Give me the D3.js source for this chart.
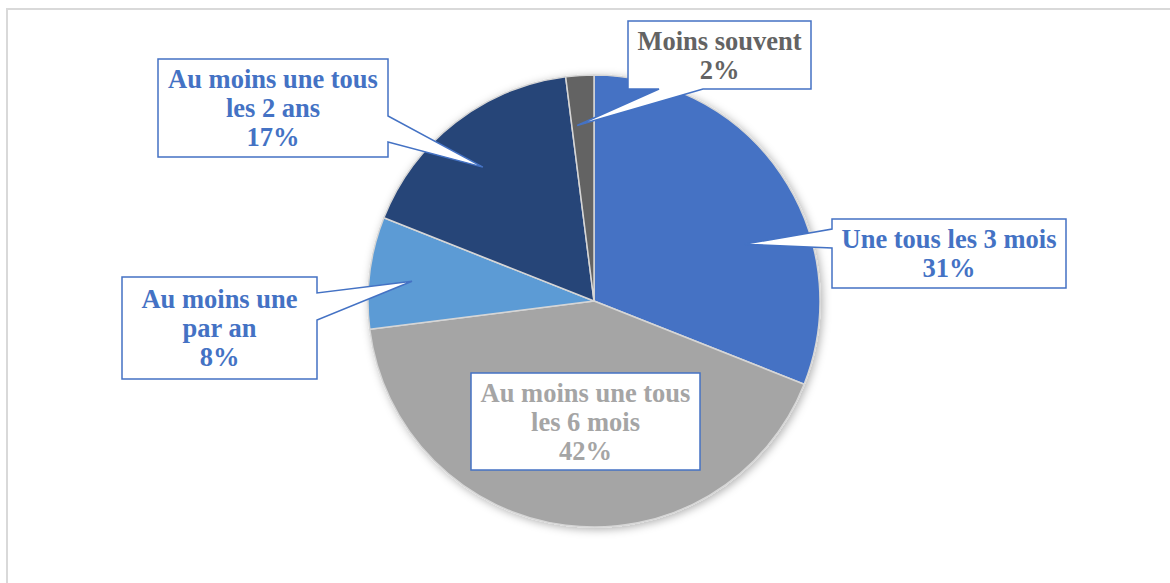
<!DOCTYPE html>
<html>
<head>
<meta charset="utf-8">
<script src="https://cdn.jsdelivr.net/npm/d3@7"></script>
<style>
  body { margin: 0; background: #fff; }
  svg { display: block; }
</style>
</head>
<body>
<svg width="1170" height="583"></svg>
<script>
let categories = ["Une tous les 3 mois", "Au moins une tous les 6 mois", "Au moins une par an", "Au moins une tous les 2 ans", "Moins souvent"];
let values = [31, 42, 8, 17, 2];
let labelLines = [["Une tous les 3 mois"], ["Au moins une tous", "les 6 mois"], ["Au moins une", "par an"], ["Au moins une tous", "les 2 ans"], ["Moins souvent"]];

let sliceColors = ['#4472C4', '#A5A5A5', '#5B9BD5', '#264478', '#636363'];
let textColors = ['#4472C4', '#A5A5A5', '#4472C4', '#4472C4', '#636363'];

// callout boxes: position of the box, which side the pointer leaves from, and where it points (polar, degrees / radius share)
let boxes = [
    {x: 832, y: 219, w: 234, h: 69, side: 'left', a: 229, b: 248, angle: 69.3, dist: 0.71},
    {x: 471, y: 373, w: 229, h: 97, side: null},
    {x: 122, y: 277, w: 195, h: 102, side: 'right', a: 293, b: 320, angle: 276.2, dist: 0.81},
    {x: 158, y: 59, w: 230, h: 98, side: 'right', a: 116, b: 142, angle: 320.3, dist: 0.77},
    {x: 628, y: 21, w: 183, h: 68, side: 'bottom', a: 659, b: 703, angle: 354.5, dist: 0.78},
];

let svg = d3.select("svg");
let cx = 594, cy = 301, radius = 226;

// chart frame, runs off the right and bottom edges
svg.append('rect')
    .attr('x', 7).attr('y', 9).attr('width', 1200).attr('height', 620)
    .attr('fill', 'white').attr('stroke', '#D9D9D9').attr('stroke-width', 2);

let defs = svg.append('defs');
defs.append('filter').attr('id', 'shadow')
    .attr('x', '-20%').attr('y', '-20%').attr('width', '140%').attr('height', '140%')
    .append('feDropShadow')
    .attr('dx', 2).attr('dy', 2).attr('stdDeviation', 4)
    .attr('flood-color', '#000').attr('flood-opacity', 0.3);

let pie = d3.pie().sort(null).value(function(d) {return d});
let arcs = pie(values);
let arc = d3.arc().innerRadius(0).outerRadius(radius);

let g = svg.append('g').attr('transform', 'translate(' + cx + ',' + cy + ')');
g.append('g').attr('filter', 'url(#shadow)')
    .selectAll('path').data(arcs).enter().append('path')
    .attr('d', arc)
    .attr('fill', function(d, i) {return sliceColors[i]})
    .attr('stroke', '#D6D6D6')
    .attr('stroke-width', 1.5)
    .attr('stroke-linejoin', 'round');

function calloutPath(b) {
    let x0 = b.x, y0 = b.y, x1 = b.x + b.w, y1 = b.y + b.h;
    if (!b.side)
        return 'M' + x0 + ',' + y0 + 'H' + x1 + 'V' + y1 + 'H' + x0 + 'Z';
    let t = d3.pointRadial(b.angle * Math.PI / 180, b.dist * radius);
    let tx = cx + t[0], ty = cy + t[1];
    if (b.side == 'right')
        return 'M' + x0 + ',' + y0 + 'H' + x1 + 'V' + b.a + 'L' + tx + ',' + ty + 'L' + x1 + ',' + b.b + 'V' + y1 + 'H' + x0 + 'Z';
    if (b.side == 'left')
        return 'M' + x0 + ',' + y0 + 'H' + x1 + 'V' + y1 + 'H' + x0 + 'V' + b.b + 'L' + tx + ',' + ty + 'L' + x0 + ',' + b.a + 'Z';
    return 'M' + x0 + ',' + y0 + 'H' + x1 + 'V' + y1 + 'H' + b.b + 'L' + tx + ',' + ty + 'L' + b.a + ',' + y1 + 'H' + x0 + 'Z';
}

let labels = svg.append('g').selectAll('g').data(arcs).enter().append('g');

labels.append('path')
    .attr('d', function(d, i) {return calloutPath(boxes[i])})
    .attr('fill', 'white')
    .attr('stroke', '#4472C4')
    .attr('stroke-width', 1.5)
    .attr('stroke-linejoin', 'miter');

labels.each(function(d, i) {
    let b = boxes[i];
    let lines = labelLines[i].concat(values[i] + '%');
    let mid = b.y + b.h / 2 + 9;
    let n = lines.length;
    d3.select(this).append('text')
        .attr('text-anchor', 'middle')
        .attr('font-family', '"Liberation Serif", "Times New Roman", serif')
        .attr('font-weight', 'bold')
        .attr('font-size', '26.5px')
        .attr('fill', textColors[i])
        .selectAll('tspan').data(lines).enter().append('tspan')
        .attr('x', b.x + b.w / 2)
        .attr('y', function(l, k) {return mid + (k - (n - 1) / 2) * 29})
        .text(function(l) {return l});
});
</script>
</body>
</html>
